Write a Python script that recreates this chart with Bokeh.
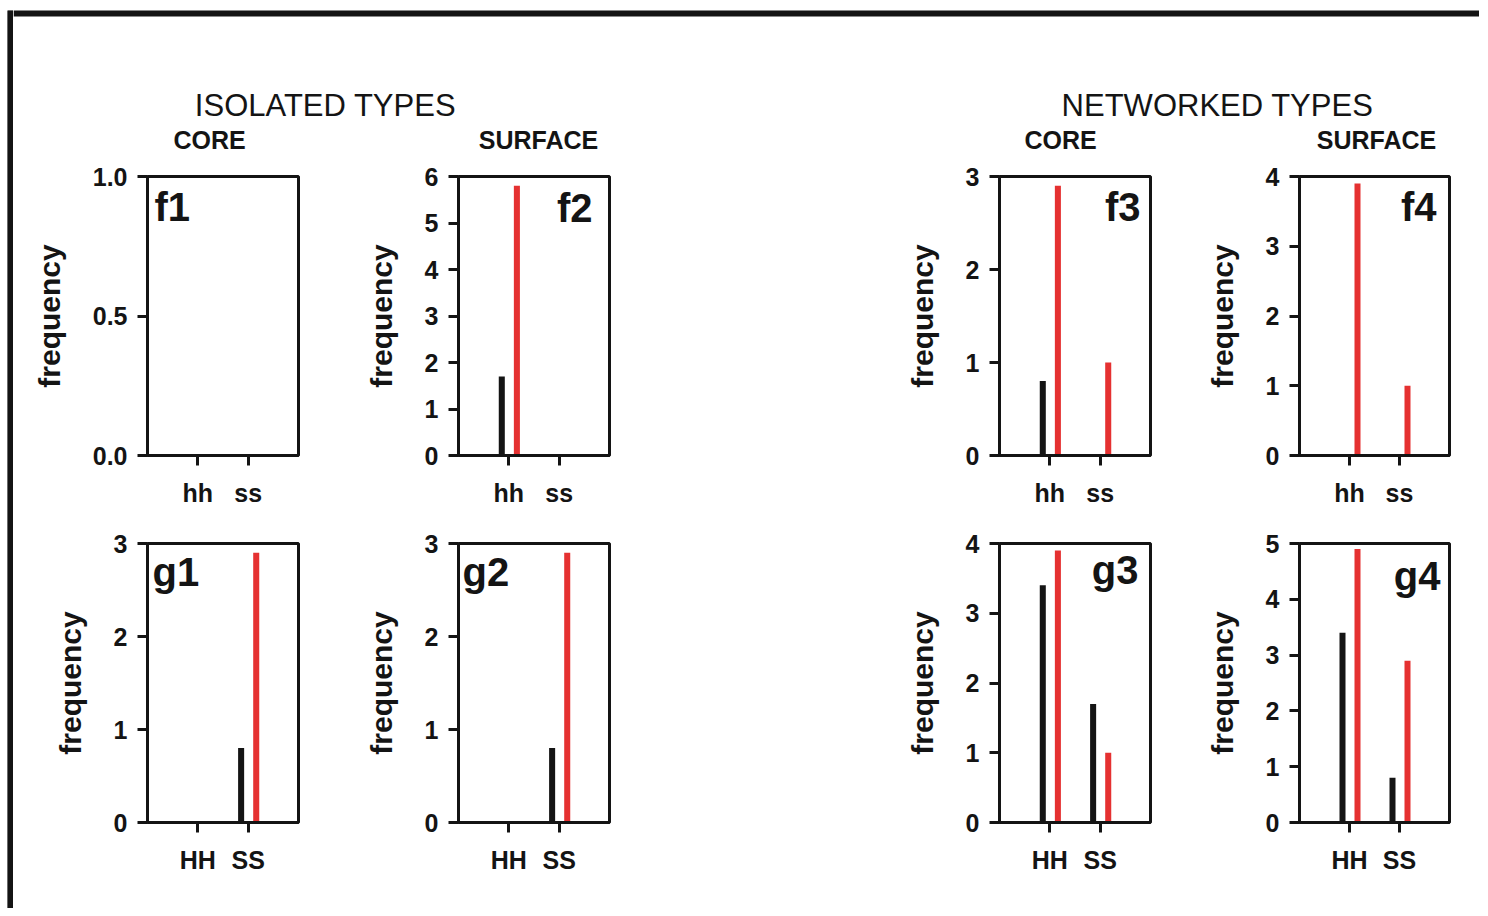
from bokeh.plotting import figure
from bokeh.layouts import row, column
from bokeh.models import Range1d, FixedTicker, NumeralTickFormatter, Spacer, ColumnDataSource
from bokeh.core.properties import value
from bokeh.embed import file_html
from bokeh.resources import INLINE

# ---------------- data ----------------
panel_names = ["f1", "f2", "f3", "f4", "g1", "g2", "g3", "g4"]
top_categories = ["hh", "ss"]
bottom_categories = ["HH", "SS"]
y_max = [1.0, 6, 3, 4, 3, 3, 4, 5]
y_step = [0.5, 1, 1, 1, 1, 1, 1, 1]
black_f1 = [0, 0]
black_f2 = [1.7, 0]
black_f3 = [0.8, 0]
black_f4 = [0, 0]
black_g1 = [0, 0.8]
black_g2 = [0, 0.8]
black_g3 = [3.4, 1.7]
black_g4 = [3.4, 0.8]
red_f1 = [0, 0]
red_f2 = [5.8, 0]
red_f3 = [2.9, 1.0]
red_f4 = [3.9, 1.0]
red_g1 = [0, 2.9]
red_g2 = [0, 2.9]
red_g3 = [3.9, 1.0]
red_g4 = [4.9, 2.9]
section_titles = ["ISOLATED TYPES", "NETWORKED TYPES"]
column_titles = ["CORE", "SURFACE", "CORE", "SURFACE"]
y_label = "frequency"

black_series = [black_f1, black_f2, black_f3, black_f4, black_g1, black_g2, black_g3, black_g4]
red_series = [red_f1, red_f2, red_f3, red_f4, red_g1, red_g2, red_g3, red_g4]

# ---------------- styling / geometry ----------------
FONT = value("Liberation Sans")
INK = "#141414"
RED = "#e53131"
BAR_W = 0.12
OFF_BLACK = -0.14
OFF_RED = 0.16

fig_start = [14, 309, 620, 1161]
fig_end = [309, 620, 1161, 1480]
frame_x = [148, 459, 1000, 1300]
frame_w = [151, 151, 151, 150]
row_top = [18, 28]
FRAME_H = 279
ROW_BOTTOM = 60

letter_pos = {
    "f1": ("left", 7, 30), "f2": ("right", -17, 31), "f3": ("right", -10, 30), "f4": ("right", -13, 30),
    "g1": ("left", 5, 28), "g2": ("left", 4, 28), "g3": ("right", -12, 26), "g4": ("right", -9, 32),
}


def make_panel(i):
    r, c = divmod(i, 4)
    name = panel_names[i]
    ymax = y_max[i]
    cats = top_categories if r == 0 else bottom_categories
    mbl = frame_x[c] - fig_start[c]
    mbr = fig_end[c] - (frame_x[c] + frame_w[c])
    h = row_top[r] + FRAME_H + ROW_BOTTOM
    p = figure(width=fig_end[c] - fig_start[c], height=h,
               x_range=Range1d(0, 3), y_range=Range1d(0, ymax),
               min_border_left=mbl, min_border_right=mbr,
               min_border_top=row_top[r], min_border_bottom=ROW_BOTTOM,
               toolbar_location=None, output_backend="svg")
    p.grid.visible = False
    p.outline_line_color = INK
    p.outline_line_width = 3
    p.outline_line_alpha = 1

    xs = [k + 1 for k in range(len(cats))]
    src = ColumnDataSource(dict(
        xb=[x + OFF_BLACK for x in xs], xr=[x + OFF_RED for x in xs],
        black=black_series[i], red=red_series[i]))
    p.vbar(x="xb", top="black", bottom=0, width=BAR_W, source=src, fill_color=INK, line_color=None)
    p.vbar(x="xr", top="red", bottom=0, width=BAR_W, source=src, fill_color=RED, line_color=None)

    align, dx, dy = letter_pos[name]
    p.text(x=[0 if align == "left" else 3], y=[ymax], text=[name], x_offset=dx, y_offset=dy,
           text_align=align, text_baseline="alphabetic", text_font=FONT,
           text_font_style="bold", text_font_size="40px", text_color=INK)

    for ax in (p.xaxis[0], p.yaxis[0]):
        ax.axis_line_width = 3
        ax.axis_line_color = INK
        ax.major_tick_line_width = 3
        ax.major_tick_line_color = INK
        ax.major_tick_out = 10
        ax.major_tick_in = 0
        ax.minor_tick_line_color = None
        ax.major_label_text_font = "Liberation Sans"
        ax.major_label_text_font_style = "bold"
        ax.major_label_text_color = INK

    xa = p.xaxis[0]
    xa.ticker = FixedTicker(ticks=xs)
    xa.major_label_overrides = {x: lab for x, lab in zip(xs, cats)}
    xa.major_label_text_font_size = "25px"
    xa.major_label_standoff = 13

    ya = p.yaxis[0]
    n = int(round(ymax / y_step[i]))
    ya.ticker = FixedTicker(ticks=[k * y_step[i] for k in range(n + 1)])
    if y_step[i] < 1:
        ya.formatter = NumeralTickFormatter(format="0.0")
    ya.major_label_text_font_size = "25px"
    ya.major_label_standoff = 10
    ya.axis_label = y_label
    ya.axis_label_text_font = "Liberation Sans"
    ya.axis_label_text_font_style = "bold"
    ya.axis_label_text_font_size = "30px"
    ya.axis_label_text_color = INK
    ya.axis_label_standoff = 24
    return p


panels = [make_panel(i) for i in range(8)]

# header with section / column titles and top frame line
header = figure(width=1466, height=150, x_range=Range1d(14, 1480), y_range=Range1d(158, 8),
                x_axis_type=None, y_axis_type=None, min_border=0, outline_line_color=None,
                toolbar_location=None, output_backend="svg")
header.grid.visible = False
header.quad(left=[14], right=[1480], top=[10], bottom=[16], fill_color=INK, line_color=None)
sec_x = [326, 1218]
header.text(x=sec_x, y=[105, 105], text=section_titles, text_align="center", text_baseline="middle",
            text_font=FONT, text_font_size="31px", text_color=INK)
col_x = [210, 539, 1061, 1377]
header.text(x=col_x, y=[139] * 4, text=column_titles, text_align="center", text_baseline="middle",
            text_font=FONT, text_font_style="bold", text_font_size="25px", text_color=INK)

# left frame line
strip = figure(width=6, height=898, x_range=Range1d(0, 1), y_range=Range1d(0, 1),
               x_axis_type=None, y_axis_type=None, min_border=0, outline_line_color=None,
               background_fill_color=INK, border_fill_color=INK,
               toolbar_location=None, output_backend="svg")
strip.grid.visible = False
strip.quad(left=[0], right=[1], bottom=[0], top=[1], fill_color=INK, line_color=None)

left = column(Spacer(width=6, height=2), strip)
right = column(header, row(*panels[:4]), row(*panels[4:]))
inner = row(left, right)
layout = column(Spacer(width=8, height=8), row(Spacer(width=7, height=8), inner))

open("out.html", "w").write(file_html(layout, INLINE))
